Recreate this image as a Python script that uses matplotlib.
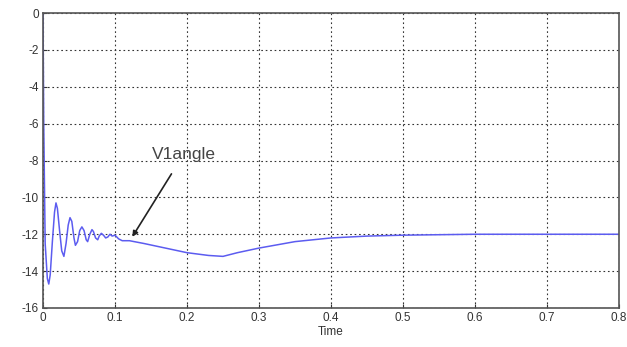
import matplotlib.pyplot as plt

plt.rcParams['font.family'] = ['Liberation Sans', 'DejaVu Sans']
plt.rcParams['axes.unicode_minus'] = False

# V1angle vs time
t = [0, 0.001, 0.003, 0.006, 0.008, 0.010, 0.013, 0.016, 0.018, 0.020,
     0.023, 0.026, 0.029, 0.032, 0.035, 0.0375, 0.040, 0.043, 0.045, 0.048,
     0.051, 0.054, 0.057, 0.060, 0.062, 0.065, 0.068, 0.070, 0.073, 0.076,
     0.078, 0.081, 0.084, 0.087, 0.090, 0.093, 0.096, 0.100, 0.105, 0.110,
     0.120, 0.140, 0.170, 0.200, 0.230, 0.250, 0.270, 0.300, 0.350, 0.400,
     0.450, 0.500, 0.600, 0.700, 0.800]
v1angle = [0, -6.0, -12.5, -14.4, -14.7, -14.2, -12.4, -10.8, -10.3, -10.6,
           -11.8, -12.9, -13.2, -12.5, -11.5, -11.1, -11.3, -12.2, -12.6, -12.4,
           -11.8, -11.6, -11.8, -12.3, -12.4, -12.0, -11.75, -11.85, -12.2, -12.3,
           -12.1, -11.95, -12.05, -12.2, -12.15, -12.0, -12.1, -12.05, -12.25, -12.35,
           -12.35, -12.5, -12.75, -13.0, -13.15, -13.2, -13.0, -12.75, -12.4, -12.2,
           -12.1, -12.05, -12.0, -12.0, -12.0]

xticks = [0, 0.1, 0.2, 0.3, 0.4, 0.5, 0.6, 0.7, 0.8]
xlabels = ["0", "0.1", "0.2", "0.3", "0.4", "0.5", "0.6", "0.7", "0.8"]
yticks = [0, -2, -4, -6, -8, -10, -12, -14, -16]

fig = plt.figure(figsize=(6.27, 3.47), dpi=100)
ax = fig.add_axes([0.0686, 0.1124, 0.9186, 0.8501])

ax.plot(t, v1angle, color="#5c5cf0", linewidth=1.1)

ax.set_xlim(0, 0.8)
ax.set_ylim(-16, 0)
ax.set_xticks(xticks)
ax.set_xticklabels(xlabels)
ax.set_yticks(yticks)
ax.tick_params(direction="in", length=3, labelsize=8.5, colors="#333333", pad=3)
ax.grid(True, color="#333333", linestyle=(0, (1.5, 2.5)), linewidth=0.8)
for s in ax.spines.values():
    s.set_color("#555555")
    s.set_linewidth(1.2)

ax.set_xlabel("Time", fontsize=8.5, color="#333333", labelpad=1)

ax.annotate("V1angle", xy=(0.124, -12.14), xytext=(0.151, -7.9),
            fontsize=12.5, color="#444444",
            arrowprops=dict(arrowstyle="-|>", color="#222222", lw=1.2,
                            shrinkA=8, shrinkB=0, mutation_scale=8))

fig.savefig("out.png", dpi=100)
